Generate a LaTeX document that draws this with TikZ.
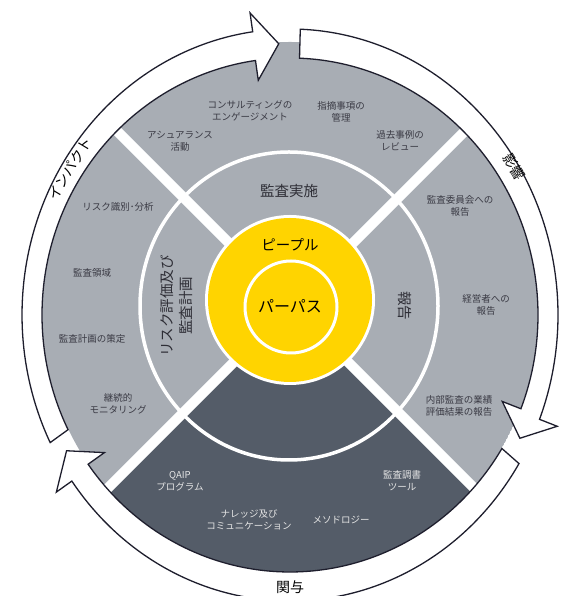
\documentclass[tikz,border=0pt]{standalone}
\usepackage{fontspec}
\setmainfont{Noto Sans CJK JP}
\usepackage{tikz}
\usetikzlibrary{calc}
\definecolor{lightslate}{HTML}{A8ADB4}
\definecolor{darkslate}{HTML}{545C68}
\definecolor{purposeyellow}{HTML}{FFD400}
\definecolor{inktext}{HTML}{3A3A44}
\definecolor{arrowline}{HTML}{1E1E2D}

\begin{document}
\begin{tikzpicture}[
            x = 1pt, y = 1pt, % one unit per pixel
            arrowband/.style = {draw = arrowline, fill = white, line width = 1.3pt, line join = miter},
            smalllabel/.style = {text = inktext, align = center, font = \fontsize{9.5}{12}\selectfont},
            darklabel/.style = {smalllabel, text = white!90!black},
            ringlabel/.style = {text = inktext!80!black, align = center, font = \fontsize{14.5}{19}\selectfont},
            bandlabel/.style = {text = black, inner sep = 1pt, font = \fontsize{14}{16}\selectfont}
        ]

        \useasboundingbox (0,0) rectangle (560,596);

        % centres
        \coordinate (O) at (290,281); % arrow band
        \coordinate (D) at (290,288); % outer disk
        \coordinate (X) at (291,291); % diagonal cross
        \coordinate (M) at (289,290); % middle ring
        \coordinate (Y) at (290,296); % yellow disk
        \coordinate (P) at (291,289); % purpose circle

        % outer disk with sectors
        \begin{scope}
            \clip (D) ellipse [x radius=249, y radius=266];
            \fill[lightslate] (D) ellipse [x radius=249, y radius=266];
            \fill[darkslate] (X) -- ($(X)+(-135:500)$) -- ($(X)+(-45:500)$) -- cycle;
            \draw[white, line width=10pt] ($(X)+(45:500)$) -- ($(X)+(-135:500)$);
            \draw[white, line width=10pt] ($(X)+(135:500)$) -- ($(X)+(-45:500)$);
            \draw[white, line width=3.5pt] (M) ellipse [x radius=149, y radius=154];
        \end{scope}

        % yellow core
        \fill[white] (Y) circle [radius=85];
        \fill[purposeyellow] (Y) circle [radius=82];
        \draw[white, line width=3pt] (P) circle [radius=46];

        % arrows round the disk
        \draw[arrowband] ($(O)+(206.5:268 and 286)$)
            arc [start angle=206.5, end angle=98, x radius=268, y radius=286]
            -- ($(O)+(98:287 and 305)$) -- ($(O)+(92.5:258 and 271.5)$)
            -- ($(O)+(98:228 and 237)$) -- ($(O)+(98:248 and 257)$)
            arc [start angle=98, end angle=206.5, x radius=248, y radius=257] -- cycle;
        \draw[arrowband] ($(O)+(87.8:268 and 286)$)
            arc [start angle=87.8, end angle=-21.4, x radius=268, y radius=286]
            -- ($(O)+(-21.4:287 and 305)$) -- ($(O)+(-27:258 and 271.5)$)
            -- ($(O)+(-21.4:228 and 237)$) -- ($(O)+(-21.4:248 and 257)$)
            arc [start angle=-21.4, end angle=87.8, x radius=248, y radius=257] -- cycle;
        \draw[arrowband] ($(O)+(-31.3:268 and 286)$)
            arc [start angle=-31.3, end angle=-144.5, x radius=268, y radius=286]
            -- ($(O)+(-144.5:287 and 305)$) -- ($(O)+(-150:258 and 271.5)$)
            -- ($(O)+(-144.5:228 and 237)$) -- ($(O)+(-144.5:248 and 257)$)
            arc [start angle=-144.5, end angle=-31.3, x radius=248, y radius=257] -- cycle;

        % arrow labels
        \node[bandlabel, rotate=59] (impact) at (70,427) {インパクト};
        \node[bandlabel, rotate=-59] (influence) at (514,429) {影響};
        \node[bandlabel] (engagement) at (290,9) {関与};

        % core
        \node[ringlabel, text = black] (people) at (290,351) {ピープル};
        \node[ringlabel, text = black, font = \fontsize{16}{19}\selectfont] (purpose) at (290,290) {パーパス};

        % middle ring
        \node[ringlabel] (execution) at (289,405) {監査実施};
        \node[ringlabel, rotate=90] (riskplan) at (177,290) {リスク評価及び\\監査計画};
        \node[ringlabel, rotate=-90] (reporting) at (405,290) {報告};

        % top sector
        \node[smalllabel] (consulting) at (250,485) {コンサルティングの\\エンゲージメント};
        \node[smalllabel] (findings) at (341,484.5) {指摘事項の\\管理};
        \node[smalllabel] (assurance) at (180,454.5) {アシュアランス\\活動};
        \node[smalllabel] (pastcases) at (400,455.5) {過去事例の\\レビュー};

        % left sector
        \node[smalllabel] (riskid) at (118,389) {リスク識別･分析};
        \node[smalllabel] (auditarea) at (92,323) {監査領域};
        \node[smalllabel] (planning) at (92,257) {監査計画の策定};
        \node[smalllabel] (monitoring) at (118,192.5) {継続的\\モニタリング};

        % right sector
        \node[smalllabel] (committee) at (460,390.5) {監査委員会への\\報告};
        \node[smalllabel] (management) at (486,291) {経営者への\\報告};
        \node[smalllabel] (performance) at (459,190.5) {内部監査の業績\\評価結果の報告};

        % bottom sector
        \node[darklabel] (qaip) at (180,115) {QAIP\\プログラム};
        \node[darklabel] (knowledge) at (249,76.5) {ナレッジ及び\\コミュニケーション};
        \node[darklabel] (methodology) at (341,76) {メソドロジー};
        \node[darklabel] (workpaper) at (402,115) {監査調書\\ツール};

\end{tikzpicture}
\end{document}
